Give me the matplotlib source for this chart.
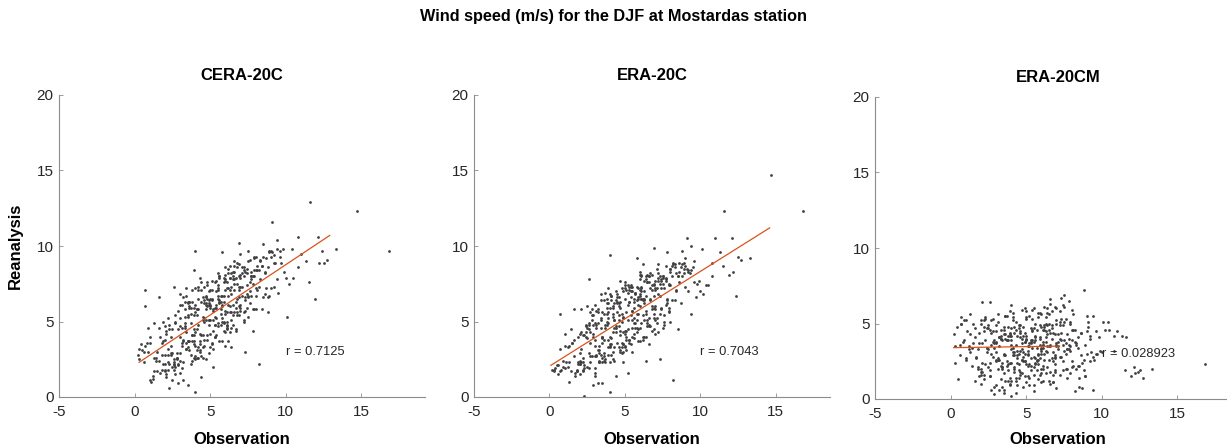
import numpy as np
import matplotlib
matplotlib.use("Agg")
import matplotlib.pyplot as plt

plt.rcParams['font.family'] = ['Liberation Sans', 'DejaVu Sans']
plt.rcParams['axes.unicode_minus'] = False

# observed wind speed (m/s), shared by the three panels
obs = [
    4.2, 6.1, 3.3, 7.5, 5.4, 2.1, 8.3, 4.8, 6.7, 1.2, 5.9, 3.8, 7.1, 9.2, 2.7, 4.5, 6.4, 0.6, 5.1, 8.8,
    3.6, 5.7, 7.9, 2.4, 4.9, 6.9, 1.7, 5.2, 3.1, 8.0, 6.3, 4.0, 2.9, 7.3, 5.6, 9.6, 3.5, 6.0, 4.6, 1.5,
    5.0, 2.2, 6.6, 4.3, 8.6, 3.0, 7.7, 0.9, 5.5, 6.2, 3.9, 10.4, 4.7, 2.6, 7.0, 5.8, 1.9, 8.1, 4.4, 6.5,
    3.4, 5.3, 7.4, 1.0, 4.1, 6.8, 2.8, 9.0, 5.0, 3.7, 6.1, 8.4, 2.0, 4.6, 7.2, 0.3, 5.7, 3.2, 9.4, 6.6,
    4.5, 6.0, 2.5, 7.8, 5.2, 3.6, 8.9, 4.0, 6.4, 1.4, 5.6, 7.0, 3.0, 10.0, 4.8, 6.9, 2.3, 5.4, 7.6, 3.9,
    5.9, 3.3, 7.1, 0.5, 4.3, 6.3, 2.6, 8.2, 5.1, 3.8, 6.7, 1.8, 9.8, 4.9, 7.5, 2.9, 5.5, 3.5, 8.6, 6.1,
    4.4, 6.5, 2.0, 7.3, 5.3, 3.1, 8.0, 4.7, 6.0, 1.1, 5.8, 3.7, 7.7, 9.1, 2.4, 4.1, 6.9, 0.8, 5.0, 8.4,
    3.2, 5.5, 7.0, 2.7, 4.6, 6.2, 1.6, 8.7, 4.0, 5.9, 3.4, 7.8, 2.2, 6.5, 4.9, 9.5, 3.0, 5.2, 7.4, 1.3,
    5.7, 4.2, 6.8, 3.5, 8.1, 2.1, 5.1, 7.2, 3.9, 6.4, 0.4, 4.8, 8.9, 2.8, 6.0, 4.4, 7.6, 1.9, 5.4, 3.3,
    4.0, 6.3, 2.5, 7.9, 5.6, 3.6, 6.9, 1.2, 4.5, 8.3, 3.0, 5.8, 7.1, 9.7, 2.2, 4.7, 6.6, 3.8, 10.8, 5.2,
    5.3, 3.1, 6.1, 4.3, 7.5, 1.7, 5.0, 8.5, 2.7, 6.7, 4.1, 0.2, 7.0, 3.4, 5.5, 9.3, 2.0, 6.3, 4.9, 8.0,
    4.6, 6.8, 3.7, 5.7, 2.3, 7.7, 4.2, 6.0, 1.5, 8.8, 3.2, 5.4, 7.2, 2.9, 4.8, 6.5, 9.9, 3.5, 5.9, 0.7,
    5.1, 3.9, 7.4, 2.6, 6.2, 4.5, 8.2, 1.0, 5.6, 3.3, 6.9, 4.0, 7.9, 2.1, 5.3, 9.0, 3.6, 6.4, 4.7, 11.6,
    4.3, 6.6, 2.4, 5.8, 3.8, 7.3, 0.9, 5.0, 8.6, 3.1, 6.1, 4.6, 1.8, 7.6, 5.5, 2.8, 9.2, 4.1, 6.8, 3.5,
    5.6, 4.4, 7.1, 2.0, 6.3, 3.0, 8.0, 4.9, 1.3, 6.0, 3.7, 7.8, 5.2, 2.5, 9.6, 4.2, 6.7, 0.3, 5.8, 3.2,
    4.8, 6.2, 3.4, 7.0, 5.4, 2.2, 8.4, 4.1, 6.5, 1.6, 5.9, 3.9, 7.5, 2.9, 4.6, 10.2, 6.9, 3.6, 5.1, 8.9,
    5.7, 3.3, 6.6, 4.5, 2.6, 7.2, 5.0, 0.6, 8.1, 3.8, 6.0, 4.3, 1.9, 7.7, 5.3, 9.4, 2.3, 6.4, 4.0, 12.5,
    4.7, 6.9, 3.0, 5.5, 7.9, 2.0, 4.2, 6.3, 1.4, 8.7, 3.5, 5.8, 7.4, 2.7, 4.9, 6.1, 13.3, 14.7, 16.8, 11.9,
    10.1, 11.0, 11.5, 12.4, 12.7, 12.1, 10.8, 12.2, 10.5, 11.3,
    3.5, 4.0, 2.3, 0.7, 0.7, 4.0, 5.8, 2.6, 3.2, 1.6, 4.4, 6.4, 7.3, 8.2, 9.1, 3.9, 2.9, 5.2, 1.0, 6.9,
    2.1, 3.0, 4.7, 5.5, 6.2, 7.0, 7.8, 8.5, 3.7, 4.3, 5.0, 6.6, 2.5, 1.3, 8.8, 9.4, 4.9, 3.4, 6.0, 7.5,
    3.3, 4.1, 4.8, 5.3, 5.9, 6.3, 6.8, 7.2, 2.7, 3.6, 4.5, 5.6, 6.1, 7.6, 2.0, 4.2, 5.1, 6.5, 3.9, 8.0,
    2.4, 3.1, 3.8, 4.4, 5.0, 5.6, 6.2, 6.8, 7.4, 2.8, 3.5, 4.2, 4.9, 5.5, 6.1, 6.7, 7.3, 7.9, 8.5, 9.2,
    1.8, 2.6, 3.4, 4.0, 4.6, 5.3, 5.9, 6.4, 7.0, 7.7, 8.3, 9.0, 2.2, 3.0, 3.9, 4.7, 5.4, 6.0, 6.6, 7.2,
]

cera = [
    5.8, 5.0, 4.7, 6.6, 7.7, 1.5, 7.8, 6.5, 5.9, 1.4, 6.7, 7.1, 6.7, 7.3, 5.4, 2.6, 6.8, 2.3, 6.5, 6.6,
    3.1, 6.7, 9.2, 2.9, 5.1, 8.0, 1.6, 5.8, 1.9, 8.4, 7.9, 4.3, 4.5, 5.7, 8.0, 9.3, 3.7, 4.3, 6.2, 3.0,
    6.0, 2.3, 8.3, 3.1, 8.3, 5.2, 6.7, 3.0, 4.7, 8.5, 4.5, 9.8, 6.6, 2.1, 5.9, 6.0, 5.0, 8.7, 2.7, 6.1,
    3.6, 7.6, 7.4, 1.1, 5.8, 5.4, 2.6, 9.3, 5.1, 5.5, 7.6, 5.8, 2.8, 3.4, 8.6, 2.5, 5.8, 6.6, 7.8, 7.1,
    6.6, 5.7, 2.0, 8.0, 4.4, 6.3, 9.6, 2.7, 7.3, 2.4, 6.2, 7.9, 4.0, 7.9, 3.8, 8.8, 4.5, 5.9, 6.2, 3.5,
    4.4, 5.3, 7.3, 3.1, 4.2, 7.9, 2.5, 7.3, 7.7, 3.7, 4.4, 3.6, 9.8, 6.4, 6.7, 2.2, 6.5, 6.3, 8.2, 5.6,
    7.1, 5.4, 2.2, 8.3, 5.9, 3.6, 5.8, 5.8, 7.7, 1.0, 5.2, 5.9, 8.0, 9.6, 3.4, 2.6, 6.6, 3.6, 6.1, 8.7,
    2.3, 7.4, 6.1, 4.9, 3.8, 6.7, 4.6, 7.2, 5.6, 5.0, 6.7, 7.5, 2.8, 8.3, 5.1, 6.9, 4.7, 3.2, 8.2, 2.6,
    6.3, 3.3, 8.6, 3.3, 7.1, 4.4, 3.5, 8.4, 5.9, 5.6, 3.5, 6.0, 6.7, 2.5, 7.1, 7.6, 7.0, 2.2, 5.2, 4.6,
    6.1, 6.0, 4.5, 5.8, 7.9, 3.7, 7.3, 1.2, 5.1, 9.0, 2.9, 3.7, 8.6, 8.9, 3.2, 6.1, 5.6, 6.3, 8.6, 5.7,
    4.8, 6.1, 7.2, 3.7, 5.3, 4.0, 5.9, 9.3, 1.5, 6.3, 5.8, 2.8, 5.7, 4.3, 7.2, 8.9, 1.8, 8.7, 4.8, 6.7,
    5.0, 7.5, 2.8, 4.8, 4.8, 8.3, 7.1, 5.5, 1.7, 8.6, 3.8, 6.1, 5.0, 5.7, 4.1, 7.8, 8.3, 5.4, 6.3, 3.4,
    7.1, 4.1, 5.9, 2.2, 8.2, 5.3, 8.4, 4.0, 3.7, 4.9, 7.1, 3.4, 9.3, 4.2, 5.3, 7.2, 5.9, 4.6, 6.2, 12.9,
    3.5, 7.8, 4.0, 6.7, 2.4, 6.4, 4.6, 7.1, 6.8, 3.4, 4.7, 7.3, 2.8, 7.6, 6.7, 2.9, 9.4, 5.4, 6.5, 6.2,
    6.3, 4.1, 8.2, 4.7, 5.6, 2.4, 7.2, 6.1, 1.7, 8.6, 4.9, 5.8, 5.1, 2.9, 9.7, 6.5, 4.5, 3.2, 6.1, 3.7,
    7.6, 6.1, 3.2, 7.3, 4.1, 5.2, 8.7, 4.5, 8.0, 2.4, 4.9, 5.4, 9.0, 2.1, 5.2, 7.5, 6.0, 6.0, 6.4, 9.7,
    5.5, 5.8, 7.5, 4.1, 2.3, 5.6, 6.5, 3.0, 8.4, 4.1, 7.8, 3.0, 3.7, 7.8, 4.8, 9.8, 2.2, 5.1, 7.2, 8.9,
    5.1, 5.4, 6.1, 7.1, 8.0, 3.8, 2.6, 7.1, 2.6, 9.2, 3.7, 5.0, 6.8, 5.0, 6.2, 4.5, 9.8, 12.3, 9.7, 6.5,
    5.3, 9.5, 7.6, 9.7, 9.1, 10.6, 10.6, 8.9, 7.9, 9.0,
    0.8, 0.3, 0.6, 7.1, 6.0, 9.7, 9.6, 7.3, 1.1, 6.6, 1.3, 3.3, 3.0, 2.2, 11.6, 8.4, 0.9, 2.0, 3.6, 10.2,
    1.3, 6.8, 2.5, 8.2, 3.7, 9.5, 4.4, 10.1, 2.2, 7.9, 3.3, 9.0, 1.1, 4.9, 5.6, 10.4, 2.9, 7.2, 3.4, 9.7,
    6.3, 3.1, 7.4, 4.0, 7.9, 4.3, 8.9, 5.1, 2.0, 6.3, 3.3, 8.0, 4.6, 9.1, 1.7, 7.3, 3.6, 4.8, 2.6, 9.3,
    2.8, 4.6, 4.1, 6.3, 4.2, 6.4, 7.2, 5.6, 8.5, 2.6, 5.3, 4.8, 7.0, 4.9, 4.8, 7.9, 6.6, 8.4, 6.6, 8.9,
    1.8, 1.8, 3.2, 2.5, 6.4, 4.0, 7.6, 8.2, 8.1, 8.0, 9.1, 9.7, 1.8, 1.6, 3.7, 6.7, 7.0, 8.1, 8.7, 8.0,
]

era20c = [
    4.3, 7.2, 2.3, 7.5, 5.4, 4.3, 8.8, 2.9, 6.5, 2.0, 4.5, 5.0, 8.5, 8.4, 2.7, 6.6, 5.5, 1.5, 5.6, 8.8,
    5.5, 4.9, 5.6, 4.0, 7.0, 6.7, 1.6, 5.1, 4.8, 8.5, 4.0, 3.5, 5.4, 6.7, 6.5, 7.6, 4.0, 8.1, 3.3, 3.6,
    4.4, 4.1, 7.6, 3.3, 7.6, 1.9, 7.9, 2.4, 7.3, 5.4, 4.9, 7.4, 3.1, 4.9, 7.2, 5.5, 2.2, 8.0, 7.0, 4.7,
    4.6, 3.8, 7.8, 3.4, 3.9, 8.1, 2.7, 7.3, 7.6, 2.5, 6.5, 8.2, 2.9, 5.1, 4.3, 1.7, 6.9, 4.9, 8.4, 5.2,
    3.6, 6.0, 4.6, 6.2, 6.9, 2.9, 8.2, 5.9, 4.0, 1.7, 6.3, 6.0, 6.1, 7.0, 5.0, 7.4, 1.9, 7.4, 7.2, 5.2,
    6.6, 3.1, 4.9, 2.1, 6.2, 6.5, 2.9, 8.8, 4.4, 6.5, 6.4, 1.8, 7.5, 3.0, 8.0, 4.2, 5.1, 2.6, 8.3, 8.1,
    4.6, 7.6, 2.4, 5.5, 3.6, 5.7, 7.4, 4.4, 6.8, 2.3, 4.3, 4.8, 8.7, 8.5, 4.7, 2.8, 5.5, 1.8, 7.2, 7.0,
    5.8, 4.6, 7.1, 2.3, 6.0, 3.8, 2.7, 8.6, 3.4, 6.1, 5.1, 6.4, 1.7, 7.6, 5.3, 8.6, 2.7, 7.4, 5.9, 3.4,
    4.6, 5.5, 6.0, 5.6, 8.7, 2.3, 3.8, 6.8, 3.8, 8.0, 1.9, 5.5, 8.5, 5.1, 3.7, 4.7, 5.4, 4.0, 7.0, 2.4,
    4.0, 7.0, 2.0, 7.5, 5.2, 6.4, 5.2, 3.3, 6.2, 6.4, 3.8, 7.3, 7.2, 6.6, 2.3, 3.0, 8.0, 4.8, 8.9, 4.5,
    6.3, 2.7, 7.3, 4.6, 7.9, 1.4, 4.2, 8.0, 4.3, 4.7, 6.4, 1.8, 5.8, 6.4, 4.0, 8.2, 4.2, 5.1, 5.2, 8.5,
    6.6, 5.8, 4.6, 6.8, 2.1, 6.1, 3.0, 6.7, 3.6, 8.0, 3.1, 3.5, 7.9, 4.0, 7.2, 4.9, 7.7, 4.0, 6.5, 1.7,
    4.0, 5.6, 7.2, 4.5, 4.0, 6.3, 8.9, 1.9, 5.9, 2.9, 5.9, 6.8, 5.9, 3.2, 6.3, 8.7, 2.7, 6.7, 4.1, 12.3,
    5.1, 4.8, 4.8, 5.1, 6.2, 7.5, 2.0, 3.4, 8.9, 4.6, 7.0, 4.7, 1.7, 4.8, 5.7, 5.8, 8.3, 3.5, 7.1, 3.9,
    4.9, 6.4, 5.2, 2.2, 6.4, 4.9, 8.3, 3.5, 2.3, 7.1, 2.3, 6.5, 6.1, 3.9, 9.0, 5.3, 8.2, 1.8, 4.6, 5.6,
    3.6, 6.5, 5.2, 5.1, 7.3, 2.6, 7.1, 6.7, 5.1, 3.8, 5.5, 2.8, 8.0, 4.8, 5.4, 6.8, 7.5, 3.8, 3.1, 8.9,
    6.9, 3.4, 4.7, 5.6, 4.8, 8.2, 3.3, 2.1, 6.4, 5.9, 4.6, 5.1, 2.3, 7.7, 7.1, 10.0, 4.1, 5.7, 3.3, 9.3,
    5.9, 4.5, 3.4, 7.0, 7.4, 2.2, 6.0, 6.2, 4.5, 6.2, 2.3, 6.4, 7.7, 3.6, 4.3, 6.5, 9.2, 14.7, 12.3, 8.1,
    9.8, 10.5, 8.7, 6.7, 9.1, 10.5, 8.0, 8.3, 7.4, 9.6,
    0.9, 0.3, 0.05, 3.2, 5.5, 9.4, 9.2, 7.8, 0.9, 5.8, 1.4, 2.4, 2.5, 1.1, 10.5, 7.2, 0.8, 1.6, 4.2, 9.9,
    5.8, 1.4, 7.7, 3.0, 8.8, 4.2, 9.6, 4.5, 6.9, 2.4, 7.4, 3.5, 6.0, 1.0, 9.7, 5.5, 2.3, 6.8, 8.3, 4.6,
    2.3, 6.7, 3.3, 7.3, 3.7, 7.7, 4.4, 8.8, 5.6, 2.4, 6.8, 3.9, 8.0, 5.0, 1.5, 2.5, 7.1, 8.1, 6.2, 5.0,
    4.3, 2.8, 5.5, 4.3, 6.5, 4.2, 6.4, 7.4, 5.8, 5.4, 3.6, 5.9, 3.5, 5.7, 4.9, 7.2, 8.0, 5.7, 8.0, 7.0,
    1.7, 1.9, 2.8, 2.3, 6.2, 3.8, 7.2, 7.8, 7.7, 7.8, 8.6, 9.2, 1.8, 1.6, 3.3, 6.3, 6.6, 7.8, 8.0, 7.7,
]

# no ERA-20CM value is visible for the 14.7 m/s observation
era20cm = [
    3.1, 4.6, 2.2, 3.9, 5.3, 1.8, 3.6, 4.2, 2.7, 3.3, 4.9, 1.2, 3.8, 2.5, 4.4, 3.0, 5.7, 2.9, 3.5, 1.9,
    4.0, 2.6, 5.1, 3.4, 1.5, 4.3, 2.8, 3.7, 5.6, 2.1, 3.2, 4.7, 0.8, 3.9, 2.4, 4.5, 3.0, 1.7, 4.1, 5.0,
    2.3, 4.8, 3.6, 1.4, 4.4, 3.1, 2.0, 5.2, 3.8, 2.6, 4.2, 5.1, 3.3, 1.9, 6.0, 2.9, 3.7, 4.6, 2.4, 3.5,
    3.9, 2.2, 4.9, 2.7, 3.4, 1.1, 4.5, 3.0, 5.4, 2.5, 3.8, 4.1, 1.6, 3.2, 5.8, 2.4, 4.6, 3.5, 2.8, 6.3,
    4.7, 3.3, 2.1, 4.0, 5.5, 2.9, 1.5, 3.6, 4.3, 2.2, 3.9, 5.0, 2.6, 3.1, 4.8, 1.8, 5.3, 3.4, 2.0, 4.4,
    2.7, 4.2, 3.5, 1.3, 5.1, 3.8, 2.4, 4.6, 3.0, 1.9, 4.9, 3.3, 4.1, 2.5, 6.1, 3.7, 0.9, 4.3, 2.9, 3.6,
    3.2, 5.0, 2.0, 4.4, 3.7, 2.6, 5.9, 1.7, 3.4, 4.5, 2.3, 3.9, 1.4, 4.8, 3.1, 5.4, 2.7, 3.8, 4.2, 2.2,
    4.1, 2.8, 3.6, 5.2, 1.6, 3.0, 4.7, 2.4, 3.9, 5.7, 2.1, 3.3, 4.5, 1.2, 3.8, 2.6, 4.9, 3.5, 1.9, 4.3,
    3.4, 1.8, 4.4, 2.9, 5.6, 3.7, 2.2, 4.0, 1.0, 3.1, 4.8, 2.5, 3.6, 5.3, 2.0, 4.2, 3.0, 1.5, 3.9, 4.6,
    2.4, 4.5, 3.3, 1.7, 4.1, 5.5, 2.8, 3.5, 4.9, 2.0, 3.7, 1.3, 4.3, 3.0, 5.2, 2.6, 6.6, 3.9, 4.2, 2.3,
    3.8, 5.1, 2.2, 4.6, 3.2, 2.7, 4.0, 1.4, 3.6, 5.8, 2.9, 4.3, 3.5, 2.1, 4.7, 3.1, 1.8, 5.0, 2.5, 3.9,
    4.4, 2.5, 3.9, 1.9, 5.4, 3.3, 2.0, 4.8, 3.7, 2.6, 4.1, 5.9, 1.6, 3.4, 2.8, 4.6, 3.2, 0.6, 4.0, 5.0,
    2.9, 4.3, 3.6, 1.5, 4.9, 2.3, 3.8, 5.2, 2.7, 4.0, 1.9, 3.3, 5.0, 2.4, 3.9, 4.5, 1.2, 3.5, 2.6, 4.1,
    3.6, 1.8, 4.7, 3.0, 2.3, 5.3, 3.9, 1.1, 4.4, 2.7, 3.4, 4.9, 2.0, 3.7, 6.0, 2.8, 4.2, 3.1, 1.6, 4.6,
    4.2, 2.9, 3.3, 5.0, 1.7, 3.8, 2.5, 4.4, 3.1, 5.6, 2.2, 3.6, 1.4, 4.7, 3.0, 2.1, 4.0, 3.5, 5.4, 2.6,
    3.1, 4.8, 2.0, 3.7, 4.5, 1.3, 3.4, 5.7, 2.6, 4.1, 3.6, 2.4, 5.1, 3.9, 1.8, 4.6, 2.9, 4.3, 3.2, 1.5,
    2.5, 4.0, 3.5, 1.9, 4.6, 2.8, 5.3, 3.6, 2.2, 4.8, 3.0, 1.2, 4.4, 3.3, 2.7, 5.5, 3.9, 2.1, 4.2, 1.9,
    3.7, 2.3, 4.5, 1.6, 3.2, 5.2, 2.9, 4.1, 3.4, 0.7, 4.8, 2.6, 6.2, 3.0, 3.8, 2.0, 2.0, np.nan, 2.3, 1.5,
    5.1, 4.5, 1.9, 1.8, 1.4, 2.1, 3.2, 1.7, 4.6, 4.2,
    0.4, 0.2, 2.3, 5.0, 5.4, 6.2, 5.7, 6.4, 0.6, 1.2, 0.9, 6.0, 6.7, 0.5, 5.1, 5.8, 0.3, 0.9, 2.6, 6.1,
    6.4, 0.9, 5.9, 0.5, 6.1, 0.7, 6.5, 0.8, 5.5, 0.4, 5.8, 1.0, 4.9, 5.6, 7.2, 0.6, 6.0, 0.8, 1.1, 6.9,
    1.3, 5.2, 0.8, 4.7, 1.6, 5.4, 1.1, 4.9, 0.6, 5.5, 1.4, 5.0, 1.2, 5.3, 1.0, 4.8, 1.5, 5.6, 0.9, 4.6,
    3.4, 2.0, 4.2, 2.7, 3.9, 2.3, 4.6, 3.1, 2.5, 3.8, 1.7, 4.4, 3.0, 2.1, 3.6, 4.7, 2.8, 3.5, 2.2, 4.0,
    2.1, 1.5, 2.4, 1.2, 4.5, 1.9, 4.1, 4.9, 5.2, 4.3, 3.7, 5.5, 1.6, 2.5, 1.4, 4.0, 4.6, 3.2, 4.4, 5.1,
]

titles = ['CERA-20C', 'ERA-20C', 'ERA-20CM']
r_labels = ['r = 0.7125', 'r = 0.7043', 'r = 0.028923']
# least-squares lines as drawn in the original (end points)
fit_x = [[0.3, 12.9], [0.1, 14.6], [0.2, 7.2]]
fit_y = [[2.3, 10.7], [2.1, 11.2], [3.4, 3.5]]

W, H = 1227, 447
fig = plt.figure(figsize=(W / 100, H / 100), dpi=100)

# axes boxes in pixels: left, right, bottom, top
boxes = [(59, 425, 397, 95), (474, 830, 397, 95), (875, 1241, 399, 97)]
xmax = [19.2, 18.6, 19.2]
series = [cera, era20c, era20cm]

for i in range(3):
    l, r, b, t = boxes[i]
    ax = fig.add_axes([l / W, (H - b) / H, (r - l) / W, (b - t) / H])
    ax.scatter(obs, series[i], s=4, c='#404040', linewidths=0)
    ax.plot(fit_x[i], fit_y[i], color='#D95319', lw=0.9)
    ax.text(10, 3, r_labels[i], fontsize=9.3, va='center', ha='left', color='#262626')

    ax.set_xlim(-5, xmax[i])
    ax.set_ylim(0, 20)
    ax.set_xticks([-5, 0, 5, 10, 15])
    ax.set_yticks([0, 5, 10, 15, 20])
    ax.spines['top'].set_visible(False)
    ax.spines['right'].set_visible(False)
    for s in ['left', 'bottom']:
        ax.spines[s].set_color('#8c8c8c')
        ax.spines[s].set_linewidth(0.8)
    ax.tick_params(direction='in', length=3, width=0.6, color='#8c8c8c',
                   labelsize=11, labelcolor='#262626')
    ax.tick_params(axis='x', pad=6)
    ax.tick_params(axis='y', pad=4)
    ax.set_title(titles[i], fontsize=12, fontweight='bold', pad=11)
    ax.set_xlabel('Observation', fontsize=12, fontweight='bold',
                  labelpad=9 if i < 2 else 7.5)
    if i == 0:
        ax.set_ylabel('Reanalysis', fontsize=12, fontweight='bold', labelpad=10)

fig.text(0.5, 1 - 17 / H, 'Wind speed (m/s) for the DJF at Mostardas station',
         ha='center', va='center', fontsize=11.7, fontweight='bold')

fig.savefig('out.png', dpi=100)
